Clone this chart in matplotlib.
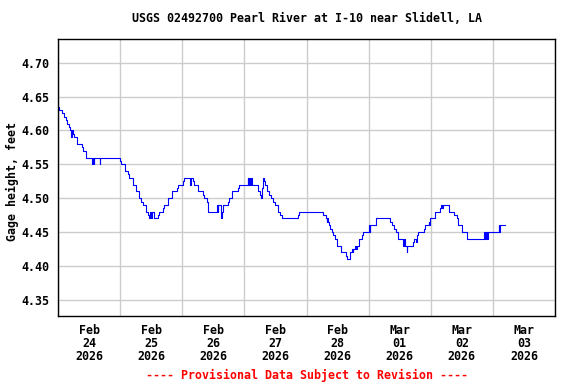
import matplotlib
matplotlib.use("Agg")
import matplotlib.pyplot as plt
import matplotlib.dates as mdates
import pandas as pd

title = "USGS 02492700 Pearl River at I-10 near Slidell, LA"
ylabel = "Gage height, feet"
footer = "---- Provisional Data Subject to Revision ----"
start = "2026-02-24 00:00"

# step breakpoints: hours since start, gage height (ft)
hours = [0.0, 0.4, 1.5, 2.3, 3.0, 3.6, 4.1, 4.6, 5.2, 5.4, 5.8, 6.2, 7.4, 9.3, 9.7, 10.8,
         13.2, 13.4, 13.8, 14.1, 16.1, 16.4, 24.0, 24.5, 25.8, 27.1, 27.6, 28.8, 29.0, 30.1,
         31.3, 32.2, 32.9, 33.9, 34.6, 35.2, 35.6, 36.0, 36.4, 37.2, 38.5, 39.0, 40.4, 40.9,
         42.6, 44.1, 45.9, 46.4, 48.1, 48.8, 51.0, 51.4, 52.0, 52.6, 54.2, 55.9, 56.4, 57.4,
         57.8, 58.1, 61.3, 61.7, 61.9, 62.8, 63.2, 63.6, 63.9, 65.5, 66.0, 67.3, 69.4, 69.9,
         73.3, 73.5, 73.9, 74.3, 74.7, 75.1, 77.3, 77.9, 78.3, 78.8, 79.2, 79.4, 79.9, 80.8,
         81.4, 82.1, 83.1, 83.7, 85.0, 85.9, 86.6, 92.8, 93.2, 102.5, 103.5, 103.9, 104.1,
         104.4, 104.8, 105.0, 105.7, 106.3, 107.0, 107.6, 109.2, 111.1, 111.5, 112.8, 113.4,
         113.8, 114.1, 114.7, 115.1, 115.5, 116.4, 117.3, 117.9, 120.1, 120.4, 120.6, 122.8,
         128.3, 128.9, 129.8, 130.4, 131.2, 133.4, 133.6, 134.2, 134.7, 135.0, 137.3, 137.7,
         138.2, 138.5, 138.6, 139.2, 141.2, 141.8, 143.2, 143.5, 143.7, 145.7, 147.6, 148.0,
         148.3, 148.6, 151.2, 153.1, 154.0, 154.7, 156.2, 157.9, 164.4, 164.8, 165.2, 165.6,
         166.0, 170.2, 170.5, 170.8, 172.5]
gage = [4.635, 4.63, 4.625, 4.62, 4.615, 4.61, 4.605, 4.60, 4.59, 4.60, 4.595, 4.59, 4.58, 4.575, 4.57, 4.56,
        4.55, 4.56, 4.55, 4.56, 4.55, 4.56, 4.555, 4.55, 4.54, 4.535, 4.53, 4.525, 4.52, 4.51,
        4.50, 4.495, 4.49, 4.48, 4.475, 4.47, 4.48, 4.47, 4.48, 4.47, 4.475, 4.48, 4.485, 4.49,
        4.50, 4.51, 4.515, 4.52, 4.525, 4.53, 4.52, 4.53, 4.525, 4.52, 4.51, 4.505, 4.50, 4.495,
        4.485, 4.48, 4.49, 4.48, 4.49, 4.47, 4.48, 4.485, 4.49, 4.495, 4.50, 4.51, 4.515, 4.52,
        4.53, 4.52, 4.53, 4.52, 4.53, 4.52, 4.51, 4.505, 4.50, 4.515, 4.53, 4.525, 4.52, 4.51,
        4.505, 4.50, 4.495, 4.49, 4.48, 4.475, 4.47, 4.475, 4.48, 4.475, 4.47, 4.465, 4.47,
        4.465, 4.46, 4.455, 4.45, 4.445, 4.44, 4.43, 4.42, 4.415, 4.41, 4.42, 4.425,
        4.42, 4.425, 4.43, 4.425, 4.43, 4.44, 4.445, 4.45, 4.46, 4.45, 4.46, 4.47,
        4.465, 4.46, 4.455, 4.45, 4.44, 4.43, 4.44, 4.43, 4.42, 4.43, 4.435, 4.44,
        4.435, 4.44, 4.445, 4.45, 4.455, 4.46, 4.465, 4.46, 4.47, 4.48, 4.485, 4.49,
        4.485, 4.49, 4.48, 4.475, 4.47, 4.46, 4.45, 4.44, 4.45, 4.44, 4.45, 4.44,
        4.45, 4.46, 4.45, 4.46, 4.46]

yticks = [4.35, 4.40, 4.45, 4.50, 4.55, 4.60, 4.65, 4.70]

t0 = pd.Timestamp(start)
times = [t0 + pd.Timedelta(hours=h) for h in hours]

mono = "DejaVu Sans Mono"
fs = 8.4
fig = plt.figure(figsize=(5.76, 3.84), dpi=100)
ax = fig.add_axes([58/576, 1-316/384, (555-58)/576, (316-39)/384])

ax.plot(times, gage, drawstyle="steps-post", color="#0000ff", lw=0.8)

ax.set_xlim(t0, t0 + pd.Timedelta(days=8))
ax.set_ylim(4.326, 4.735)
ax.set_yticks(yticks)
ax.set_yticklabels([f"{v:.2f}" for v in yticks], fontfamily=mono, fontweight="bold", fontsize=fs)

ax.xaxis.set_major_locator(mdates.DayLocator())
ax.xaxis.set_major_formatter(plt.NullFormatter())
ax.xaxis.set_minor_locator(mdates.HourLocator(byhour=[12]))
ax.xaxis.set_minor_formatter(mdates.DateFormatter("%b\n%d\n%Y"))
ax.tick_params(axis="x", which="both", length=0, pad=6)
ax.tick_params(axis="y", length=0, pad=6)
fig.canvas.draw()
for lab in ax.xaxis.get_minorticklabels():
    lab.set_fontfamily(mono)
    lab.set_fontweight("bold")
    lab.set_fontsize(fs)
    lab.set_linespacing(1.0)

ax.grid(True, which="major", color="#cccccc", lw=1)
ax.set_axisbelow(True)
for s in ax.spines.values():
    s.set_color("black")
    s.set_linewidth(1)

fig.text(12/576, 1-182/384, ylabel, rotation=90, ha="center", va="center",
         fontfamily=mono, fontweight="bold", fontsize=fs)
fig.text(0.5*(58+555)/576, 1-19/384, title, ha="center", va="center",
         fontfamily=mono, fontweight="bold", fontsize=fs)
fig.text(0.5*(58+555)/576, 1-375/384, footer, ha="center", va="center",
         fontfamily=mono, fontweight="bold", fontsize=fs, color="red")

fig.savefig("out.png", dpi=100)
